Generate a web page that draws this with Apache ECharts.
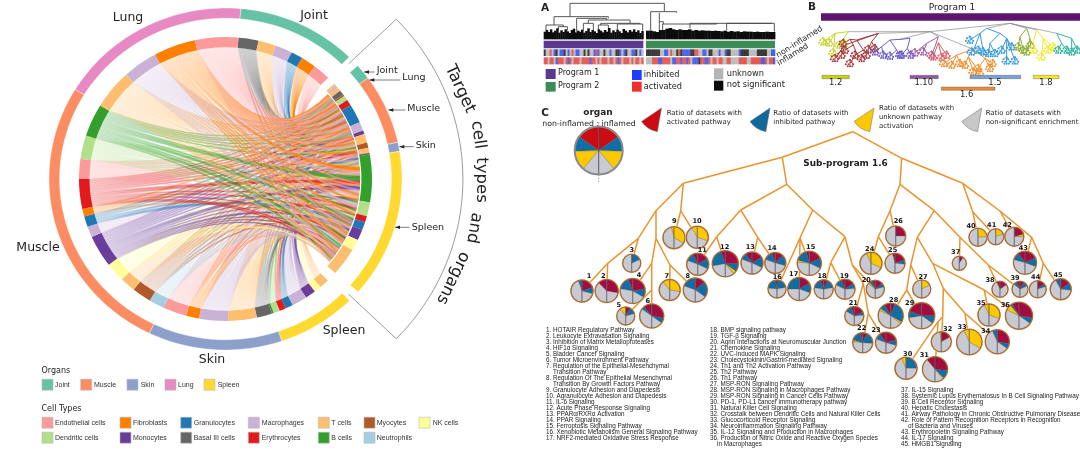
<!DOCTYPE html>
<html><head><meta charset="utf-8"><style>html,body{margin:0;padding:0;background:#fff}#c{width:1080px;height:469px}</style>
<script src="https://cdn.jsdelivr.net/npm/echarts@6/dist/echarts.min.js"></script></head><body><div id="c"></div>
<script>
// ---------- data ----------
const cellTypes=['Endothelial cells','Fibroblasts','Granulocytes','Macrophages','T cells','Myocytes','NK cells','Dendritic cells','Monocytes','Basal III cells','Erythrocytes','B cells','Neutrophils'];
const organs=['Joint','Muscle','Skin','Lung','Spleen'];
const pathways=['1. HOTAIR Regulatory Pathway','2. Leukocyte Extravasation Signaling','3. Inhibition of Matrix Metalloproteases','4. HIF1α Signaling','5. Bladder Cancer Signaling','6. Tumor Microenvironment Pathway','7. Regulation of the Epithelial-Mesenchymal','    Transition Pathway','8. Regulation Of The Epithelial Mesenchymal','    Transition By Growth Factors Pathway','9. Granulocyte Adhesion and Diapedesis','10. Agranulocyte Adhesion and Diapedesis','11. IL-6 Signaling','12. Acute Phase Response Signaling','13. PPARα/RXRα Activation','14. PPAR Signaling','15. Ferroptosis Signaling Pathway','16. Xenobiotic Metabolism General Signaling Pathway','17. NRF2-mediated Oxidative Stress Response'];
const pathways2=['18. BMP signaling pathway','19. TGF-β Signaling','20. Agrin Interactions at Neuromuscular Junction','21. Chemokine Signaling','22. UVC-Induced MAPK Signaling','23. Cholecystokinin/Gastrin-mediated Signaling','24. Th1 and Th2 Activation Pathway','25. Th2 Pathway','26. Th1 Pathway','27. MSP-RON Signaling Pathway','28. MSP-RON Signaling in Macrophages Pathway','29. MSP-RON Signaling in Cancer Cells Pathway','30. PD-1, PD-L1 cancer immunotherapy pathway','31. Natural Killer Cell Signaling','32. Crosstalk between Dendritic Cells and Natural Killer Cells','33. Glucocorticoid Receptor Signaling','34. Neuroinflammation Signaling Pathway','35. IL-12 Signaling and Production in Macrophages','36. Production of Nitric Oxide and Reactive Oxygen Species','    in Macrophages'];
const pathways3=['37. IL-15 Signaling','38. Systemic Lupus Erythematosus In B Cell Signaling Pathway','39. B Cell Receptor Signaling','40. Hepatic Cholestasis','41. Airway Pathology in Chronic Obstructive Pulmonary Disease','42. Role of Pattern Recognition Receptors in Recognition','    of Bacteria and Viruses','43. Erythropoietin Signaling Pathway','44. IL-17 Signaling','45. HMGB1 Signaling'];
// organ arcs: [organ index, start deg, end deg]
const organArcs=[[3,301.6,365],[0,5,44.5],[0,48.5,53.8],[1,53.8,77.6],[2,77.6,80.7],[4,80.7,131.3],[4,135.3,161.4],[2,161.4,205.6],[1,205.6,301.6]];
// inner ring: source sectors [cell index, start deg, end deg]
const sourceSectors=[[9,5.1,13.1],[4,13.1,20.2],[3,20.2,26.9],[2,26.9,31.6],[1,31.6,37.6],[0,37.6,44.5],
[4,135.7,139.6],[6,139.6,142.4],[8,142.4,146.6],[3,146.6,152.7],[2,152.7,155.7],[10,155.7,158.3],[7,158.3,160.8],[11,160.8,161.5],[9,161.5,167.6],[4,167.6,178.9],[3,178.9,190.4],[1,190.4,195.6],[0,195.6,205],[12,205,211.2],[5,211.2,218.8],[4,218.8,225],[6,225,232.8],[8,232.8,245.9],[3,245.9,250.3],[2,250.3,254.7],[1,254.7,257.8],[10,257.8,270],[0,270,278.2],[7,278.2,287.8],[11,287.8,301.2],[4,301.2,317.3],[3,317.3,331.2],[1,331.2,348],[0,348,365.1]];
// chord target positions per source sector (deg on target block)
const chordTargets=[[52,54,56,60,63,66,70,74,79,88,104,118],[50,55,58,62,65,72,84,92,98,110],[53,57,61,68,75,85,95,112,124],[60,64,72,78,88,101,113],[51,56,59,66,71,86,87,97,109],[52,58,63,69,76,90,106,120,126],
[62,70,82,102,116],[58,73,96,119],[65,80,93,94,112,123],[55,60,67,77,89,103,115,127],[68,83,108,121],[57,74,91,92],[63,75,106,111],[90],[54,61,69,81,99,114,125],[51,56,59,64,67,71,78,86,87,94,100,107,113,118,124,128],[52,55,58,62,66,70,76,85,88,95,101,109,116,122,126],[53,60,68,86,86.5,98,110],[50,57,63,72,80,90,97,104,112,119,127,129],[59,65,74,84,96,108,120,128],[56,61,66,73,79,89,103,117],[54,62,70,82,91,105,115,123],[52,58,65,75,87,98,111,121,128],[53,57,63,68,72,77,83,93.5,94,94.5,99,106,113,113.5,118,122,126],[64,71,86,102,119],[60,69,81,100,110,111],[55,76,85.5,116],[51,56,60,64,67,72,78,91,91.5,92,103,109,117,125,127],[50,55,59,66,71,79,88,96,105,115,124],[52,57,62,68,74,83,90,101,107,114,120,126],[53,58,61,65,70,76,89,89.5,90,90.5,104,108,108.5,117,121,122,128],[50,51,54,56,59,62,65,67,69,73,77,84,86,93,99,105,112,118,123,127,129],[51,53,57,60,63,66,70,75,82,88,95,102,110,116,122,125],[50,52,55,58,61,64,67,71,74,78,85,85.5,86,97,100,106,111,115,119,124],[51,54,56,59,62,65,68,72,75,80,87,92,98,103,109,114,120,126,129]];
// target block sectors
const targetSectors=[[4,47.9,48.9],[3,48.9,49.8],[4,49.8,51.5],[9,51.5,53.4],[5,53.4,54.2],[7,54.2,56.2],[10,56.2,58.7],[2,58.7,66.4],[3,66.4,70],[8,70,71.5],[4,71.5,75.1],[5,75.1,77.3],[4,77.3,79.3],[9,79.3,80],[11,80,99.5],[7,99.5,105.2],[10,105.2,107.7],[2,107.7,111],[8,111,115.5],[6,115.5,120],[4,120,131.5]];
// pies: share of datasets (deg of each half) activated, inhibited, unknown, not significant
const pieLeft=[[0,20,0,160],[45,0,0,135],[0,0,0,180],[20,60,0,100],[0,0,40,140],[40,15,0,125],[0,0,40,140],[0,70,0,110],[0,0,15,165],[0,0,30,150],[25,45,0,110],[20,80,0,80],[35,35,0,110],[20,50,0,110],[15,60,10,95],[10,75,0,95],[0,90,0,90],[20,60,0,100],[20,45,0,115],[20,20,10,130],[20,40,0,120],[15,60,10,95],[35,35,0,110],[0,0,25,155],[15,0,0,165],[0,0,0,180],[0,0,0,180],[30,25,10,115],[70,30,0,80],[0,0,25,155],[40,0,0,140],[0,0,10,170],[0,0,25,155],[0,25,0,155],[0,0,25,155],[30,10,25,115],[0,0,0,180],[25,0,0,155],[25,25,0,130],[0,0,0,180],[0,0,0,180],[0,0,0,180],[35,40,0,105],[0,0,0,180],[0,30,0,150]];
const pieRight=[[70,35,0,75],[100,0,0,80],[0,65,0,115],[80,40,0,60],[30,45,0,105],[100,25,0,55],[0,0,100,80],[50,75,0,55],[0,0,120,60],[0,0,110,70],[60,55,0,65],[90,35,15,40],[60,55,0,65],[45,60,0,75],[65,50,0,65],[10,70,0,100],[60,50,0,70],[25,55,0,100],[55,30,0,95],[50,25,0,105],[65,20,0,95],[25,70,0,85],[75,30,0,75],[0,0,115,65],[70,25,0,85],[90,0,0,90],[0,0,65,115],[20,100,10,50],[90,35,0,55],[0,90,0,90],[95,40,5,40],[60,0,5,115],[0,0,120,60],[100,25,0,55],[0,0,110,70],[100,25,0,55],[35,0,0,145],[55,0,0,125],[30,35,0,115],[0,0,85,95],[0,0,70,110],[75,0,15,90],[65,45,0,70],[50,20,0,110],[55,40,0,85]];
const legendPieShares=[55,37,48,40];
// heat strips of panel A: i inhibited, a activated, u unknown, n not significant
const heatTopP1='nuuauinuiinuiuauiiuununuuiaiuunuuiuunniuinuuiinuiu';
const heatTopP2='nnnnnnnuuiiuauunaniiiinnaauuiiunnuuuiuuinnuuuuinnnnuuuunnnnnuuii';
const heatBotP1='aauaauiaaauaiauaaauaaaaiaauauaaauaauaiauaaauauaaua';
const heatBotP2='uuuaaaiiaaaauiiaaiaaiauiiinaaiiauaauaauuaauuuuaaaauuaaaaaiiauaai';
// leaf tops of panel A dendrogram
const leafTopsP1=[95,90,96,88,97,92,85,98,91,96,88,94,99,90,86,97,92,95,89,98,93,85,96,90,94,99,88,92,97,90,95,84,98,91,96,89,94,99,87,92,97,90,95,88,96,91,99,93];
const leafTopsP2=[92,92,94,96,90,90,86,84,88,90,88,90,90,88,92,90,92,91,92,92,93,92,93,94,92,95,93,95,94,96,94,95,95,96,95,96,96,95,96,96];
// program memberships (panel B sub-program labels)
const subPrograms=['1.2','1.10','1.5','1.8','1.6'];

// ---------- palette ----------
const cellColors=['#fb9a99','#ff7f00','#1f78b4','#cab2d6','#fdbf6f','#b15928','#ffff99','#b2df8a','#6a3d9a','#666666','#e31a1c','#33a02c','#a6cee3'];
const organColors=['#66c2a5','#fc8d62','#8da0cb','#e78ac3','#ffd92f'];
const sliceColors=['#a40b3f','#0f6ea6','#fdc800','#c9c9d2'];
const heatColors={i:'#2a48e8',a:'#e2403a',u:'#b4b4b4',n:'#1c1c1c'};

// ---------- layout (page pixels / crop units of the hidden axes) ----------
const pieLayout=[[582,291,11],[606.7,291,11.5],[631.7,263.3,9],[632.7,291,12.5],[625.7,316,9],[651.7,316,12],[669.7,290,10.5],[695.3,290,12],[674,237.7,11],[697.3,237.3,11],[697.7,264.3,11],[725.3,263.7,13],[752,263,11],[775.3,263,10.5],[809.3,263.3,12],[777,289,9],[799.3,289,11.5],[823.7,289.3,9.5],[845,289.3,10],[875.3,289.3,9],[854.3,316,9.5],[862.7,342.7,10],[886,342.7,10.5],[871,263.3,11],[895,263.3,10],[895.7,236,10],[921.7,289,9],[890.7,315.7,12.5],[921.7,315.7,13],[906,368.3,11],[935,369.3,12.5],[941.3,341.7,10],[969.3,342,12.7],[997.3,341.7,12],[989,315,11],[1019,315.7,13.5],[959.3,263.3,7],[1000,289.3,8],[1020,289.3,8],[978,237.3,9],[995.7,236.7,8],[1014.3,236.7,9.5],[1025,262.7,11.5],[1037.7,289.3,8.5],[1060.7,289.3,10.5]];
const pieLabelAt=[[589,276.7],[603.3,276.7],[631.7,250],[639,275.7],[618.7,305.7],[647.7,301.7],[666.7,276],[687.7,276.7],[674.3,221.7],[697,221.7],[702.3,250.7],[724.7,247.3],[750.3,247.7],[772,248.7],[810.7,247.3],[777.3,277.7],[793.7,274],[822,276],[844.3,276],[866.3,280.7],[853.3,303.3],[861.7,328.3],[876,330.7],[869.7,249.3],[892.7,250.7],[898.3,221],[923,277.3],[893.7,300],[909.7,303.3],[907.7,354.3],[924.3,355.7],[947.7,329],[962,327.3],[985.7,331.7],[981,303.3],[1005.3,305.3],[955.7,252.7],[990,280],[1015,278.7],[971,226.3],[991.7,225.7],[1007.3,225.3],[1023.3,248.7],[1035.7,277.3],[1058,275.7]];
const treeC=[852.7,131.7,
 [782.3,157.3,
  [683.3,183.3,
   [656,210.7,[638.3,238.3,[607.7,263.3,1,2],3],[656,238.3,[651.7,263.3,4,[651.7,290,5,6]],[670,265,7,8]]],
   [680.7,210.7,9,10]],
  [786.7,184.3,
   [740.7,210,[716.7,236.7,11,12],[757.7,237.3,13,14]],
   [812.7,210,[800,238,15,16,17],[845,236.7,[830.7,262.7,18,19],[852.3,265,20,[863.3,283.3,21,[868.3,313.3,22,23]]]]]]],
 [901.7,158.3,
  [900,184.3,
   [890,210.7,[878.3,236.7,24,25],26],
   [934.3,210.7,
    [917.3,237.3,[910.7,265,27,[906.7,290,28,29]],[932.7,263.3,[943.3,288.3,[942.7,316.7,32,[938,321.7,30,31]],[965,313.3,33,34]],[984.3,290,35,36]]],
    [960,237.3,37,[988.3,265,38,39]]]],
  [962.7,183.3,[972.7,211.7,40,41],[1000,211,42,[1031.7,237.3,43,[1043.3,263.3,44,45]]]]]];
const dendA=[262,10,
 [120,50,
  [72,75,[48,92],[100,80,[85,92],[112,92]]],
  [235,55,[140,95],[230,60,[175,70,[160,92],[190,90]],[300,70,[212,75,[205,92],[235,92]],[330,72,[262,90],[338,92]]]]]],
 [403,35,[362,92],[440,38,[388,65,[388,95],[400,72,[398,92],[560,70,[480,85],[725,70,[590,90],[733,95]]]]]]]];
const trunkB=[[630,70,[390,95,[145,95],[235,100],[300,118],[415,110],[520,148]],[560,85],[680,85],[710,90],[770,100]]];
const clustersB=[
 ['#c6d32f',[145,95,[105,100,[70,125],[88,128],[100,158]],[125,125,[118,135],[132,130]]]],
 ['#a83a3a',[235,100,[215,125,[225,145],[205,148]],[170,120,[150,118,[130,130],[160,135,[135,150],[170,160,[150,190],[185,175]]]],[190,150,[165,165],[200,165]]],[135,135,[105,175],[125,165]]]],
 ['#6a5fc4',[300,118,[330,115,[322,145,[305,165],[332,165]]],[270,120,[245,140,[225,155],[250,165]],[290,150,[270,168],[300,165]]]]],
 ['#a0609f',[415,110,[380,130,[345,158],[370,155]],[405,140,[395,165]]]],
 ['#e0606a',[415,128,[400,170],[425,172],[440,165]]],
 ['#f09030',[520,148,[470,165,[432,190],[455,195],[480,190]],[505,170,[495,195],[520,215],[540,218]],[555,175,[570,205],[535,205],[578,190]]]],
 ['#3a9bdc',[560,85,[540,100,[510,120],[525,140,[515,155],[535,150]],[550,155]],[600,100,[570,130,[565,160],[585,160]],[620,115,[605,150],[635,140],[620,182],[645,182]]]]],
 ['#8fae3a',[680,85,[660,110,[655,140],[670,150]],[690,115,[680,155],[692,135]]]],
 ['#f2ea2c',[710,90,[700,125,[702,150]],[730,115,[725,170],[745,150],[760,140]]]],
 ['#2fb5a4',[770,100,[785,130,[775,150],[800,150]],[815,115,[815,155],[832,150]]]]];

// ---------- helpers ----------
const rad=d=>d*Math.PI/180;
const polar=(api,a,r)=>api.coord([r*Math.sin(rad(a)),r*Math.cos(rad(a))]);
function ringPts(api,a0,a1,r0,r1){const p=[],n=Math.max(2,Math.ceil((a1-a0)/1.5));
 for(let i=0;i<=n;i++)p.push(polar(api,a0+(a1-a0)*i/n,r1));
 for(let i=n;i>=0;i--)p.push(polar(api,a0+(a1-a0)*i/n,r0));return p;}
function custom(grid,rows,fn,z){return {type:'custom',coordinateSystem:'cartesian2d',xAxisIndex:grid,yAxisIndex:grid,silent:true,animation:false,clip:false,z:z||2,
 data:rows.map((_,i)=>[i,i]),encode:{x:0,y:1},renderItem:(p,api)=>fn(rows[p.dataIndex],api,p.dataIndex)};}
const line=(pts,stroke,w,op,dash)=>({type:'polyline',shape:{points:pts},style:{fill:null,stroke,lineWidth:w,opacity:op==null?1:op,lineDash:dash||null}});
const txt=(s,p,size,o={})=>({type:'text',x:p[0],y:p[1],rotation:o.rot?rad(o.rot):0,style:{text:s,x:0,y:0,fill:o.fill||'#222',font:`${o.bold?'bold ':''}${size}px "${o.fam||'DejaVu Sans'}"`,textAlign:o.align||'left',textVerticalAlign:'middle'}});
function segmentsStraight(n,col,out){const [x,y,...kids]=n;kids.forEach(k=>{const c=typeof k==='number'?pieLayout[k-1]:k;out.push([x,y,c[0],c[1],col]);if(typeof k!=='number')segmentsStraight(k,col,out);});return out;}
function leaves(n,out){const [x,y,...kids]=n;if(!kids.length)out.push([x,y]);kids.forEach(k=>leaves(k,out));return out;}
function elbow(n,out){const [x,y,...kids]=n;if(!kids.length)return out;const xs=kids.map(k=>k[0]);out.push([[Math.min(...xs),y],[Math.max(...xs),y]]);kids.forEach(k=>{out.push([[k[0],y],[k[0],k[1]]]);elbow(k,out);});return out;}

// ---------- ribbons ----------
const HUB=[0.2,0.02],HUBMIX=0.85;
const rgba=(h,a)=>`rgba(${parseInt(h.slice(1,3),16)},${parseInt(h.slice(3,5),16)},${parseInt(h.slice(5,7),16)},${a})`;
const fade=(h,a0,a1,p,q)=>({type:'linear',global:true,x:p[0],y:p[1],x2:q[0],y2:q[1],colorStops:[{offset:0,color:rgba(h,a0)},{offset:0.45,color:rgba(h,(a0+a1)/2)},{offset:1,color:rgba(h,a1)}]});
const ribbons=[];
sourceSectors.forEach((s,si)=>{const t=chordTargets[si].slice().sort((a,b)=>b-a);const w=(s[2]-s[1])/t.length;
 t.forEach((b,j)=>ribbons.push({c:cellColors[s[0]],a0:s[1]+j*w,a1:s[1]+(j+1)*w,b:b,w:0.8}));});
function qcurve(api,a,b){const R=0.77,R2=0.762,n=14,pts=[];
 const ax=R*Math.sin(rad(a)),ay=R*Math.cos(rad(a)),bx=R2*Math.sin(rad(b)),by=R2*Math.cos(rad(b));
 const cx=HUB[0]*HUBMIX+(ax+bx)/2*(1-HUBMIX),cy=HUB[1]*HUBMIX+(ay+by)/2*(1-HUBMIX);
 for(let i=0;i<=n;i++){const t=i/n,u=1-t;pts.push(api.coord([u*u*ax+2*u*t*cx+t*t*bx,u*u*ay+2*u*t*cy+t*t*by]));}return pts;}
const ribbonSeries=custom(0,ribbons,(r,api)=>{
 const e1=qcurve(api,r.a0,r.b+r.w/2),e2=qcurve(api,r.a1,r.b-r.w/2);
 const p=e1[0],q=e1[e1.length-1];
 const kids=[{type:'polygon',shape:{points:e1.concat(e2.slice().reverse())},style:{fill:fade(r.c,0.05,0.5,p,q)}}];
 for(let k=0;k<4;k++){const f=k/3;kids.push({type:'polyline',shape:{points:qcurve(api,r.a0+(r.a1-r.a0)*f,r.b+r.w/2-r.w*f)},style:{fill:null,stroke:fade(r.c,0.28,0.55,p,q),lineWidth:0.4}});}
 return {type:'group',children:kids};},3);

// ---------- text tables ----------
const cellLegendAt=[[42,55,422.7],[120,133,422.7],[180.7,193.7,422.7],[248.3,261.7,422.7],[318.3,331.3,422.7],[364,376.7,422.7],[419,432.7,422.7],[42,55,437.7],[120,133,437.7],[180.7,193.7,437.7],[248.3,261.7,437.7],[318.3,331.3,437.7],[364,376.7,437.7]];
const organLegendAt=[[42,55],[80.7,94],[127,140.7],[165,178],[204,217.7]];
const big=[['Lung',128,18],['Joint',314,16],['Muscle',38,248],['Skin',212,360],['Spleen',344,331]];
const small=[['Joint',376.7,71,364,72],['Lung',402.3,78,369.3,80],['Muscle',407.3,108.7,388.3,110],['Skin',415.7,146,399.3,146.7],['Spleen',411.7,227.3,395,227.3]];
const titleWords=[['Target',460,89,-65],['cell',478,135,-82],['types',481,180,-90],['and',474,228,-100],['organs',453,278,-116]];
const misc=[
 ['A',545,8,10.5,{bold:1,align:'center'}],['B',812,7,10.5,{bold:1,align:'center'}],['C',545,113,10.5,{bold:1,align:'center'}],
 ['Program 1',952,8,9,{align:'center'}],['organ',598,113,9,{bold:1,align:'center'}],['non-inflamed : inflamed',589,124,7.8,{align:'center'}],
 ['Program 1',558,73,8,{}],['Program 2',558,86,8,{}],['inhibited',643.7,75,8.2,{}],['activated',643.7,86.7,8.2,{}],['unknown',726.7,74,8.2,{}],['not significant',726.7,85,8.2,{}],
 ['non-inflamed',777,56,8,{rot:32}],['inflamed',778,64,8,{rot:32}],
 ['Ratio of datasets with',666.7,113,6.9,{}],['activated pathway',666.7,122,6.9,{}],
 ['Ratio of datasets with',773.3,113,6.9,{}],['inhibited pathway',773.3,122,6.9,{}],
 ['Ratio of datasets with',879,108,6.9,{}],['unknown pathway',879,117,6.9,{}],['activation',879,126,6.9,{}],
 ['Ratio of datasets with',985.7,113,6.9,{}],['non-significant enrichment',985.7,122,6.9,{}],
 ['Sub-program 1.6',845.5,164,8.9,{bold:1,align:'center'}],
 [subPrograms[0],835.7,82.7,8.4,{align:'center'}],[subPrograms[1],923.7,82.7,8.4,{align:'center'}],[subPrograms[2],995,82.7,8.4,{align:'center'}],[subPrograms[3],1046,82.7,8.4,{align:'center'}],[subPrograms[4],966.7,94.7,8.4,{align:'center'}],
 ['Organs',41.5,371,8,{}],['Cell Types',41.5,409,8,{}]];
const rangeBars=[[822,849.3,75.3,78.7,'#c8d400'],[910,938.3,75.3,78.7,'#8e5a9e'],[970,1020.7,75.3,78.7,'#7aa0d8'],[1033.3,1059,75.3,78.7,'#f2ea20'],[941.3,995,87,90.3,'#ec8a3c']];
const wedges=[[661.5,108,'#cc0c14'],[770,108,'#10699a'],[874,108,'#fdc800'],[981.7,108,'#c8c8c8']];
const swatchFlat=[...organLegendAt.map((o,i)=>[o[0],384.7,organColors[i]]),...cellLegendAt.map((o,i)=>[o[0],o[2],cellColors[i]])];
const pieAll=pieLayout.map((l,i)=>({l,L:pieLeft[i],R:pieRight[i],n:i+1}));

function pieChildren(api,cx,cy,r,L,R){const kids=[];const draw=(vals,sign)=>{let acc=0;vals.forEach((v,k)=>{if(!v)return;
   const s=sign>0?-90+acc:-90-acc-v,e=sign>0?-90+acc+v:-90-acc;
   kids.push({type:'sector',shape:{cx,cy,r0:0,r,startAngle:rad(s),endAngle:rad(e),clockwise:true},style:{fill:sliceColors[k],stroke:'#555',lineWidth:0.3}});acc+=v;});};
 draw(L,-1);draw(R,1);return kids;}

// ---------- series ----------
const series=[
 ribbonSeries,
 custom(0,organArcs,(a,api)=>({type:'polygon',shape:{points:ringPts(api,a[1],a[2],0.94,1)},style:{fill:organColors[a[0]],stroke:'#fff',lineWidth:0.4}}),4),
 custom(0,sourceSectors.concat(targetSectors),(a,api)=>({type:'polygon',shape:{points:ringPts(api,a[1],a[2],0.77,0.83)},style:{fill:cellColors[a[0]]}}),4),
 custom(0,[0],(_,api)=>{const arc=[polar(api,46,0.97)];for(let a=46;a<=134;a+=2)arc.push(polar(api,a,1.345));arc.push(polar(api,134,0.97));return line(arc,'#444',0.6,0.9);},4),
 custom(1,small,(s,api)=>{const p1=api.coord([s[3],s[4]]),end=api.coord([s[1]-2,s[4]]);
   return {type:'group',children:[line([p1,end],'#222',0.6),{type:'polygon',shape:{points:[p1,[p1[0]+5,p1[1]-1.7],[p1[0]+5,p1[1]+1.7]]},style:{fill:'#222'}},txt(s[0],api.coord([s[1],s[2]]),9.5)]};},5),
 custom(1,big,(s,api)=>txt(s[0],api.coord([s[1],s[2]]),12.5,{align:'center'}),5),
 custom(1,titleWords,(s,api)=>txt(s[0],api.coord([s[1],s[2]]),16.5,{align:'center',rot:s[3]}),5),
 custom(1,misc,(s,api)=>txt(s[0],api.coord([s[1],s[2]]),s[3],s[4]),5),
 custom(1,swatchFlat,(s,api)=>{const c=api.coord([s[0],s[1]]);return {type:'rect',shape:{x:c[0],y:c[1]-5.5,width:11,height:11},style:{fill:s[2],stroke:'#bbb',lineWidth:0.6}};},5),
 custom(1,organs,(s,api,i)=>txt(s,api.coord([organLegendAt[i][1],384.7]),7,{fam:'Liberation Sans',fill:'#333'}),5),
 custom(1,cellTypes,(s,api,i)=>txt(s,api.coord([cellLegendAt[i][1],cellLegendAt[i][2]]),7,{fam:'Liberation Sans',fill:'#333'}),5),
 custom(1,pathways,(s,api,i)=>txt(s,api.coord([546,330+i*6.02]),6.3,{fam:'Liberation Sans'}),5),
 custom(1,pathways2,(s,api,i)=>txt(s,api.coord([710,330+i*6.02]),6.3,{fam:'Liberation Sans'}),5),
 custom(1,pathways3,(s,api,i)=>txt(s,api.coord([901,390.3+i*6.02]),6.3,{fam:'Liberation Sans'}),5),
 // panel A
 custom(2,elbow(dendA,[]),(s,api)=>line(s.map(p=>api.coord(p)),'#444',0.9),3),
 custom(2,[[leafTopsP1,41,340],[leafTopsP2,348,735]],(s,api)=>{const w=(s[2]-s[1])/s[0].length;return {type:'group',children:s[0].map((t,i)=>{const a=api.coord([s[1]+i*w,t]),b=api.coord([s[1]+(i+1)*w,118]);return {type:'rect',shape:{x:a[0],y:a[1],width:b[0]-a[0]+0.4,height:b[1]-a[1]},style:{fill:'#0c0c0c'}};})};},3),
 custom(2,[[41,340,122,145,'#5a3a8e'],[348,735,122,145,'#3c8c55']],(s,api)=>{const a=api.coord([s[0],s[2]]),b=api.coord([s[1],s[3]]);return {type:'rect',shape:{x:a[0],y:a[1],width:b[0]-a[0],height:b[1]-a[1]},style:{fill:s[4]}};},3),
 custom(2,[[heatTopP1,41,340,148,168],[heatTopP2,348,735,148,168],[heatBotP1,41,340,172,193],[heatBotP2,348,735,172,193]],(s,api)=>{const w=(s[2]-s[1])/s[0].length;return {type:'group',children:[...s[0]].map((ch,i)=>{const a=api.coord([s[1]+i*w,s[3]]),b=api.coord([s[1]+(i+1)*w,s[4]]);return {type:'rect',shape:{x:a[0],y:a[1],width:b[0]-a[0]+0.3,height:b[1]-a[1]},style:{fill:heatColors[ch],opacity:0.85}};})};},3),
 custom(2,[[47,207,77,237,'#5a3a8e'],[47,246,77,275,'#3c8c55'],[306,210,335,240,'#1c3cff'],[306,245,335,275,'#f0302c'],[552,205,580,238,'#b4b4b4'],[552,242,580,272,'#0c0c0c']],(s,api)=>{const a=api.coord([s[0],s[1]]),b=api.coord([s[2],s[3]]);return {type:'rect',shape:{x:a[0],y:a[1],width:b[0]-a[0],height:b[1]-a[1]},style:{fill:s[4]}};},3),
 // panel B
 custom(3,[[63,840,40,62]],(s,api)=>{const a=api.coord([s[0],s[2]]),b=api.coord([s[1],s[3]]);return {type:'rect',shape:{x:a[0],y:a[1],width:b[0]-a[0],height:b[1]-a[1]},style:{fill:'#5e1570'}};},3),
 custom(3,segmentsStraight(trunkB[0],'#8c8c8c',[]),(s,api)=>line([api.coord([s[0],s[1]]),api.coord([s[2],s[3]])],s[4],0.7),3),
 custom(3,clustersB.flatMap(c=>segmentsStraight(c[1],c[0],[])),(s,api)=>line([api.coord([s[0],s[1]]),api.coord([s[2],s[3]])],s[4],1),3),
 custom(3,clustersB.flatMap(c=>leaves(c[1],[]).map(l=>[l[0],l[1],c[0]])),(s,api)=>{const p=api.coord([s[0],s[1]]);const kids=[[-3.2,-1.5],[-1.5,1],[1.5,-1.5],[3.2,1],[0,-3.5],[-2.3,3],[0,3],[2.3,3],[-4.2,1]].map(o=>({type:'circle',shape:{cx:p[0]+o[0],cy:p[1]+o[1],r:1},style:{fill:s[2]}}));kids.push(line([[p[0]-3,p[1]-2],[p[0],p[1]-4],[p[0]+3,p[1]+1]],s[2],0.8),line([[p[0],p[1]-4],[p[0],p[1]+3]],s[2],0.8));return {type:'group',children:kids};},3),
 custom(1,rangeBars,(s,api)=>{const a=api.coord([s[0],s[2]]),b=api.coord([s[1],s[3]]);return {type:'rect',shape:{x:a[0],y:a[1],width:b[0]-a[0],height:b[1]-a[1]},style:{fill:s[4],stroke:'#555',lineWidth:0.4}};},3),
 // panel C
 custom(1,segmentsStraight(treeC,'#e8942f',[]),(s,api)=>line([api.coord([s[0],s[1]]),api.coord([s[2],s[3]])],s[4],1.5),3),
 custom(1,pieAll,(p,api)=>{const c=api.coord([p.l[0],p.l[1]]),r=p.l[2];
   const kids=[{type:'circle',shape:{cx:c[0],cy:c[1],r:r+1},style:{fill:'#f6c998'}},...pieChildren(api,c[0],c[1],r,p.L,p.R),
   line([[c[0],c[1]-r],[c[0],c[1]+r]],'#666',0.7),{type:'circle',shape:{cx:c[0],cy:c[1],r},style:{fill:null,stroke:'#a06a38',lineWidth:1.1}}];
   return {type:'group',children:kids};},5),
 custom(1,pieAll,(p,api)=>txt(String(p.n),api.coord(pieLabelAt[p.n-1]),6.6,{bold:1,align:'center',fill:'#111'}),6),
 custom(1,[[598.7,150.5,24]],(s,api)=>{const c=api.coord([s[0],s[1]]);return {type:'group',children:[...pieChildren(api,c[0],c[1],s[2],legendPieShares,legendPieShares).map(k=>{if(k.style.fill==='#a40b3f')k.style.fill='#cc0c14';return k;}),
   line([[c[0],c[1]-s[2]],[c[0],c[1]+s[2]]],'#555',0.8),line([[c[0],c[1]+s[2]],[c[0],c[1]+s[2]+8]],'#888',0.8,1,[1.5,1.5]),line([[c[0],c[1]-s[2]-4],[c[0],c[1]-s[2]]],'#888',0.8,1,[1.5,1.5]),
   {type:'circle',shape:{cx:c[0],cy:c[1],r:s[2]},style:{fill:null,stroke:'#8a8a8a',lineWidth:2}}]};},5),
 custom(1,wedges,(s,api)=>{const c=api.coord([s[0],s[1]]);return {type:'sector',shape:{cx:c[0],cy:c[1],r0:0,r:24,startAngle:rad(100),endAngle:rad(146),clockwise:true},style:{fill:s[2],stroke:'#666',lineWidth:0.5}};},5)
];
const hid=(o)=>Object.assign({type:'value',show:false,splitLine:{show:false}},o);
const chart=echarts.init(document.getElementById('c'),null,{width:1080,height:469});
chart.setOption({animation:false,backgroundColor:'#fff',
 grid:[{left:49,top:8,width:353,height:342},{left:0,top:0,width:1080,height:469},{left:530,top:0,width:280,height:160},{left:800,top:0,width:280,height:160}],
 xAxis:[hid({gridIndex:0,min:-1,max:1}),hid({gridIndex:1,min:0,max:1080}),hid({gridIndex:2,min:0,max:840}),hid({gridIndex:3,min:0,max:840})],
 yAxis:[hid({gridIndex:0,min:-1,max:1}),hid({gridIndex:1,min:0,max:469,inverse:true}),hid({gridIndex:2,min:0,max:480,inverse:true}),hid({gridIndex:3,min:0,max:480,inverse:true})],
 series});
</script></body></html>
